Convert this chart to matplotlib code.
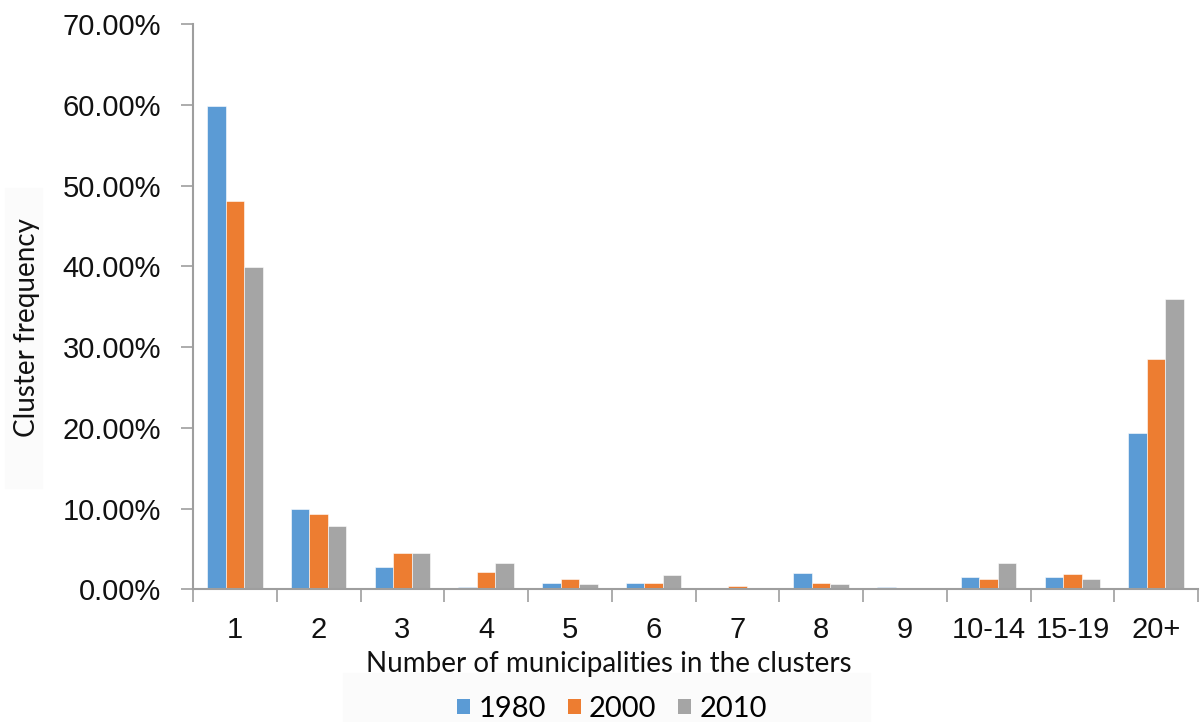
import matplotlib
matplotlib.use("Agg")
import matplotlib.pyplot as plt
import numpy as np
from matplotlib.patches import Patch, Rectangle
from matplotlib.ticker import FuncFormatter, FixedLocator

# ── data: share of clusters by number of member municipalities (%) ───────────
categories = ["1", "2", "3", "4", "5", "6", "7", "8", "9", "10-14", "15-19", "20+"]
freq_1980 = [59.8, 10.0, 2.7, 0.25, 0.75, 0.75, 0.0, 2.0, 0.25, 1.5, 1.5, 19.4]
freq_2000 = [48.1, 9.3, 4.5, 2.2, 1.3, 0.75, 0.4, 0.75, 0.0, 1.3, 1.85, 28.5]
freq_2010 = [39.9, 7.9, 4.5, 3.25, 0.6, 1.8, 0.0, 0.6, 0.0, 3.25, 1.3, 36.0]
years = ["1980", "2000", "2010"]
colors = ["#5B9BD5", "#ED7D31", "#A5A5A5"]

TICK_FONT = "Liberation Sans"
LABEL_FONT = "Lato"
AXIS_GREY = "#9e9e9e"

fig = plt.figure(figsize=(12, 7.22), dpi=100)

# faint backing boxes behind the axis titles / legend
fig.patches.append(Rectangle((5 / 1200, 1 - 488 / 722), 37 / 1200, 300 / 722,
                             transform=fig.transFigure, color="#fbfbfb", zorder=0))
fig.patches.append(Rectangle((343 / 1200, 0), 527 / 1200, 49 / 722,
                             transform=fig.transFigure, color="#fbfbfb", zorder=0))

ax = fig.add_axes([193 / 1200, 1 - 589.3 / 722, 1005 / 1200, 565.3 / 722])
ax.set_facecolor("none")

x = np.arange(len(categories))
bar_w = 0.221
for k, (vals, col) in enumerate(zip([freq_1980, freq_2000, freq_2010], colors)):
    ax.bar(x + (k - 1) * bar_w, vals, width=bar_w, color=col,
           edgecolor="white", linewidth=0.4, zorder=2)

ax.set_xlim(-0.5, len(categories) - 0.5)
ax.set_ylim(0, 70)

# y axis: percentages with two decimals
ax.set_yticks(np.arange(0, 71, 10))
ax.yaxis.set_major_formatter(FuncFormatter(lambda v, _: f"{v:.2f}%"))
ax.tick_params(axis="y", direction="out", length=9, width=1.2, color=AXIS_GREY,
               pad=14, labelsize=21)

# x axis: labels centred, tick marks on the category boundaries
ax.set_xticks(x)
ax.set_xticklabels(categories)
ax.xaxis.set_minor_locator(FixedLocator(np.arange(-0.5, len(categories), 1.0)))
ax.tick_params(axis="x", which="major", length=0, pad=19, labelsize=21)
ax.tick_params(axis="x", which="minor", direction="out", length=9, width=1.2,
               color=AXIS_GREY)

for lab in ax.get_xticklabels() + ax.get_yticklabels():
    lab.set_fontfamily(TICK_FONT)
    lab.set_color("#111111")

for side in ("top", "right"):
    ax.spines[side].set_visible(False)
for side in ("left", "bottom"):
    ax.spines[side].set_color(AXIS_GREY)
    ax.spines[side].set_linewidth(1.5)

fig.text(27 / 1200, 1 - 328 / 722, "Cluster frequency", rotation=90,
         ha="center", va="center", fontsize=20, family=LABEL_FONT, color="#111111")
fig.text(609 / 1200, 1 - 664 / 722, "Number of municipalities in the clusters",
         ha="center", va="center", fontsize=20, family=LABEL_FONT, color="#111111")

handles = [Patch(facecolor=c, edgecolor="none", label=y) for c, y in zip(colors, years)]
fig.legend(handles=handles, loc="center", bbox_to_anchor=(612 / 1200, 1 - 709 / 722),
           ncol=3, frameon=False, handlelength=0.45, handleheight=0.45,
           handletextpad=0.28, columnspacing=0.75,
           prop={"family": LABEL_FONT, "size": 21})

fig.savefig("out.png", dpi=100)
